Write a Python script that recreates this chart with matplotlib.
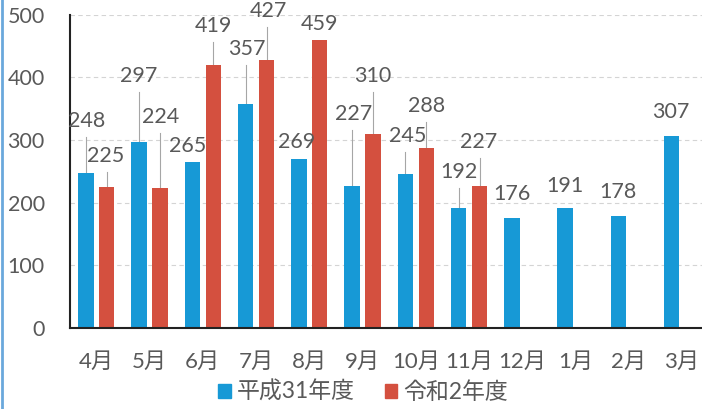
import numpy as np
import matplotlib
matplotlib.use("Agg")
import matplotlib.pyplot as plt
from matplotlib.patches import Patch
from matplotlib.lines import Line2D

plt.rcParams['font.family'] = ['Lato', 'Noto Sans CJK JP', 'DejaVu Sans']

# ---- data ----
months = ['4月', '5月', '6月', '7月', '8月', '9月', '10月', '11月', '12月', '1月', '2月', '3月']
h31 = [248, 297, 265, 357, 269, 227, 245, 192, 176, 191, 178, 307]
r2 = [225, 224, 419, 427, 459, 310, 288, 227]
series_names = ['平成31年度', '令和2年度']

# ---- label placement (style) ----
h31_label_y = [321, 392, 281, 436, 287, 332, 297, 239, 204, 217, 207, 335]
h31_label_dx = [0.01, 0, -0.09, 0.03, -0.05, 0.03, 0.04, 0.01, 0.01, 0, 0, -0.02]
r2_label_y = [265, 327, 472, 496, 475, 392, 344, 287]
r2_label_dx = [-0.02, 0.01, 0.01, 0.04, 0, -0.01, 0, -0.01]

blue = '#1799d6'
red = '#d4503f'
txt = '#595959'
W, H = 702, 409

fig = plt.figure(figsize=(W / 100, H / 100), dpi=100)
ax = fig.add_axes([69.7 / W, (H - 328.1) / H, 639 / W, 313.5 / H])

x = np.arange(len(months))
bw = 0.29
off = 0.196
xb = x - off
xr = x[:len(r2)] + off
ax.bar(xb, h31, width=bw, color=blue, zorder=3)
ax.bar(xr, r2, width=bw, color=red, zorder=3)

def labels(xs, vals, ys, dxs):
    for xc, v, ly, dx in zip(xs, vals, ys, dxs):
        ax.text(xc + dx, ly, str(v), ha='center', va='baseline',
                fontsize=15.5, color=txt, zorder=5)
        if ly - v > 30:
            ax.plot([xc, xc], [ly - 16, v], color='#a6a6a6', lw=0.8, zorder=2)

labels(xb, h31, h31_label_y, h31_label_dx)
labels(xr, r2, r2_label_y, r2_label_dx)

ax.set_xlim(-0.5, len(months) - 0.5)
ax.set_ylim(0, 500)
ax.set_yticks(np.arange(0, 501, 100))
ax.set_xticks(x)
ax.set_xticklabels(months)
ax.tick_params(axis='both', length=0, labelcolor=txt)
ax.tick_params(axis='y', pad=18, labelsize=15.5)
ax.tick_params(axis='x', pad=17, labelsize=16)
ax.yaxis.grid(True, linestyle=(0, (4, 3)), color='#d4d4d4', lw=0.8, zorder=0)
ax.set_axisbelow(True)
for s in ['top', 'right']:
    ax.spines[s].set_visible(False)
for s in ['left', 'bottom']:
    ax.spines[s].set_color('#222222')
    ax.spines[s].set_linewidth(1.5)
    ax.spines[s].set_zorder(4)

handles = [Patch(color=blue), Patch(color=red)]
fig.legend(handles, series_names, loc='center', bbox_to_anchor=(363 / W, 1 - 392 / H),
           ncol=2, frameon=False, fontsize=16.5, labelcolor=txt,
           handlelength=0.55, handleheight=0.55, handletextpad=0.25, columnspacing=1.3)

fig.add_artist(Line2D([1.5 / W, 1.5 / W], [0, 1], color='#6aa8dc', lw=2))

fig.savefig('out.png', dpi=100)
